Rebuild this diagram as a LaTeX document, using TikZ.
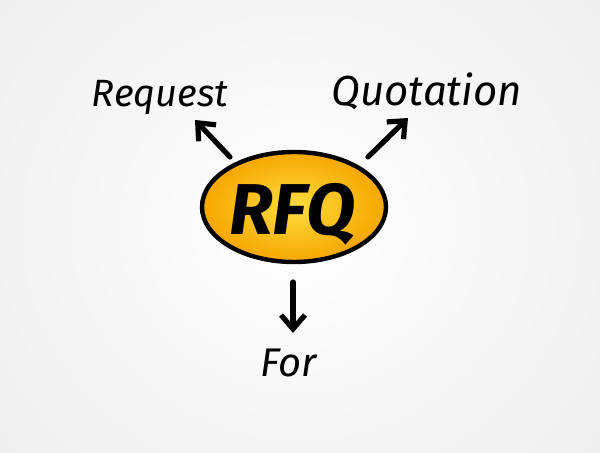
\documentclass[tikz,border=0pt]{standalone}
\usepackage{fontspec}
\setmainfont{Fira Sans}
\usetikzlibrary{shapes.geometric,arrows.meta}
\definecolor{ringin}{RGB}{255,220,64}
\definecolor{ringout}{RGB}{246,166,0}
\definecolor{bgout}{RGB}{236,236,236}
\begin{document}
\begin{tikzpicture}[x=0.5pt,y=-0.5pt,
 hand/.style={text=black, inner sep=0pt, anchor=base},
 arr/.style={line width=2.6pt, line cap=round, line join=round,
   -{Straight Barb[length=7pt,width=12pt,line width=2.6pt]}}]
\useasboundingbox (0,0) rectangle (600,453);
\shade[inner color=white, outer color=bgout] (-160,-200) rectangle (760,653);
\node[ellipse, draw=black, line width=2.2pt, inner color=ringin, outer color=ringout,
  minimum width=92pt, minimum height=55pt, inner sep=0pt] (rfq) at (294,207) {};
\node[hand, font=\fontsize{36}{40}\selectfont\bfseries\itshape] (rfqt) at (292,235) {RFQ};
\node[hand, font=\fontsize{19}{22}\selectfont\itshape] (req) at (160,107) {Request};
\node[hand, font=\fontsize{21}{24}\selectfont\itshape] (quo) at (427,106) {Quotation};
\node[hand, font=\fontsize{20}{24}\selectfont\itshape] (for) at (289,377) {For};
\coordinate (r1) at (230,157); \coordinate (r2) at (195,120);
\coordinate (q1) at (368,157); \coordinate (q2) at (408,118);
\coordinate (f1) at (293,282); \coordinate (f2) at (293,333);
\draw[arr] (r1) -- (r2);
\draw[arr] (q1) -- (q2);
\draw[arr] (f1) -- (f2);
\end{tikzpicture}
\end{document}
